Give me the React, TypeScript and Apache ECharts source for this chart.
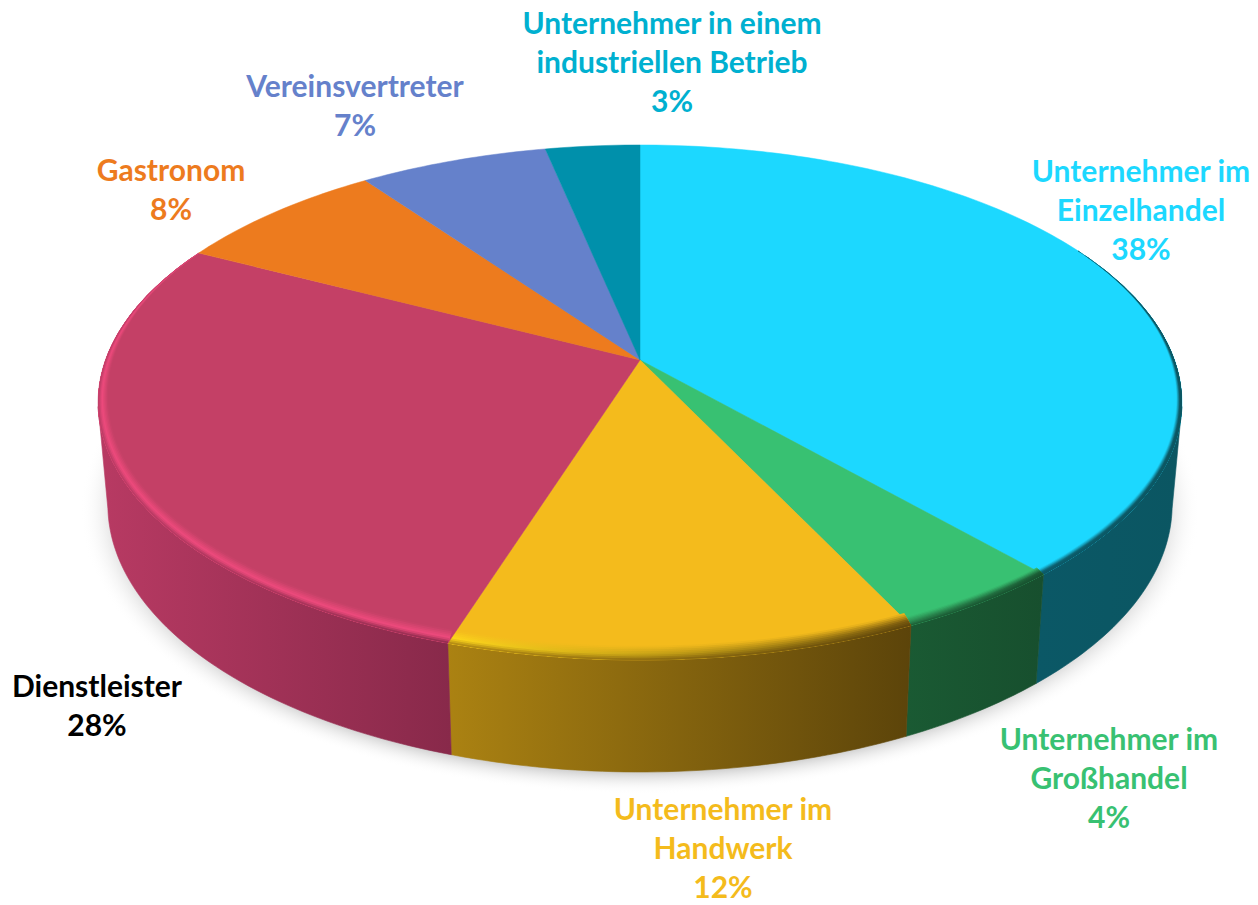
import React, { useEffect, useRef } from "react";
import * as echarts from "echarts";

// ---- data ----
const categories = [
  "Unternehmer im\nEinzelhandel",
  "Unternehmer im\nGroßhandel",
  "Unternehmer im\nHandwerk",
  "Dienstleister",
  "Gastronom",
  "Vereinsvertreter",
  "Unternehmer in einem\nindustriellen Betrieb",
];
const values = [38.5, 4.4, 12.0, 27.7, 7.5, 6.6, 3.3];
const percentLabels = ["38%", "4%", "12%", "28%", "8%", "7%", "3%"];

// ---- styles ----
const topColors = ["#1cd8ff", "#38c172", "#f4bb1c", "#c44066", "#ed7b1e", "#6581cb", "#0090ab"];
const labelColors = ["#1cd8ff", "#38c172", "#f4bb1c", "#000000", "#ed7b1e", "#6581cb", "#00b0d0"];
const wallLeft = ["#0b5866", "#1a5a33", "#ab8212", "#b83a63", "#c0641a", "#50669f", "#00728a"];
const wallRight = ["#0b5662", "#174f2e", "#5c440a", "#88294a", "#c0641a", "#50669f", "#00728a"];
const rimLeft = ["#0c5f6e", "#2a8a50", "#ffd81c", "#ee4a7c", "#ed7b1e", "#6581cb", "#0090ab"];
const rimRight = ["#0b5662", "#1a5a33", "#7a5a0e", "#ee4a7c", "#ed7b1e", "#6581cb", "#0090ab"];
const bevelWidths = [0.022, 0.028, 0.04, 0.04, 0, 0, 0];
// centre of the first text line, and the line pitch is LINE_GAP
const labelFirstLine = [
  [1141, 170],
  [1109, 738],
  [723, 808],
  [97, 685],
  [171, 169],
  [355, 85],
  [672, 22],
];
const LINE_GAP = 39;

// ---- projection of the tilted disc ----
const CX = 640;
const CY = 360;
const PERSP = 0.165;
const AX = 534.5;
const BY = 250.5;
const RAD = Math.PI / 180;
const VIS_START = 100.4;
const VIS_END = 259.6;

function project(theta: number, ru: number, rv: number = ru): [number, number] {
  const u = ru * Math.sin(theta * RAD);
  const v = rv * Math.cos(theta * RAD);
  const d = 1 + PERSP * v;
  return [CX + (AX * u) / d, CY - (BY * v) / d];
}
function lower(theta: number): [number, number] {
  const [x, y] = project(theta, 1);
  const v = Math.cos(theta * RAD);
  return [CX + (x - CX) * 0.982, y + 100 + 12 * Math.max(0, -v)];
}
function smooth(a: number, b: number, t: number) {
  const s = Math.min(1, Math.max(0, (t - a) / (b - a)));
  return s * s * (3 - 2 * s);
}
function taper(theta: number) {
  return smooth(55, 105, theta) * (1 - smooth(255, 305, theta));
}
function hex(c: string) {
  return [1, 3, 5].map((i) => parseInt(c.slice(i, i + 2), 16));
}
function mix(a: string, b: string, t: number) {
  const A = hex(a);
  const B = hex(b);
  const m = A.map((x, i) => Math.round(x + (B[i] - x) * t));
  return `rgb(${m[0]},${m[1]},${m[2]})`;
}
function ramp(top: string, rim: string, wall: string, t: number) {
  return t < 0.6 ? mix(top, rim, t / 0.6) : mix(rim, wall, (t - 0.6) / 0.4);
}
function arcRange(a: number, b: number) {
  const out: number[] = [];
  for (let t = a; t < b; t += 1) out.push(t);
  out.push(b);
  return out;
}

const total = values.reduce((s, v) => s + v, 0);

function renderSlice(params: any, api: any) {
  const i = params.dataIndex;
  const before = values.slice(0, i).reduce((s, v) => s + v, 0);
  const a0 = (before / total) * 360;
  const a1 = ((before + api.value(0)) / total) * 360;
  const children: any[] = [];

  const hGrad = (l: string, r: string) => ({
    type: "linear", x: 0, y: 0, x2: 1, y2: 0,
    colorStops: [{ offset: 0, color: l }, { offset: 1, color: r }],
  });

  const w0 = Math.max(a0, VIS_START);
  const w1 = Math.min(a1, VIS_END);
  if (w1 > w0) {
    const arc = arcRange(w0, w1);
    const pts = [...arc.map((t) => project(t, 1)), ...arc.slice().reverse().map(lower)];
    const fill = hGrad(wallLeft[i], wallRight[i]);
    children.push({ type: "polygon", shape: { points: pts }, style: { fill, stroke: fill, lineWidth: 0.6 } });
  }

  const arc = arcRange(a0, a1);
  children.push({
    type: "polygon",
    shape: { points: [[CX, CY], ...arc.map((t) => project(t, 1))] },
    style: { fill: topColors[i], stroke: topColors[i], lineWidth: 0.5 },
  });

  const b0 = Math.max(a0, 62);
  const b1 = Math.min(a1, 300);
  const width = bevelWidths[i];
  if (b1 > b0 && width > 0) {
    const bArc = arcRange(b0, b1);
    const layers = 8;
    for (let k = 0; k < layers; k++) {
      const t0 = k / layers;
      const tm = (k + 0.5) / layers;
      const outer = bArc.map((t) => project(t, 1));
      const inner = bArc
        .map((t) => {
          const dr = (1 - t0) * width * taper(t);
          return project(t, 1 - dr * 0.45, 1 - dr);
        })
        .reverse();
      const fill = hGrad(
        ramp(topColors[i], rimLeft[i], wallLeft[i], tm),
        ramp(topColors[i], rimRight[i], wallRight[i], tm),
      );
      children.push({ type: "polygon", shape: { points: [...outer, ...inner] }, style: { fill } });
    }
  }
  return { type: "group", children };
}

export default function App() {
  const ref = useRef<HTMLDivElement>(null);
  useEffect(() => {
    document.body.style.margin = "0";
    document.body.style.background = "#fff";
    const chart = echarts.init(ref.current!, null, { renderer: "svg" });
    const labelLines = categories.flatMap((c, i) =>
      `${c}\n${percentLabels[i]}`.split("\n").map((line, n) => ({
        type: "text",
        silent: true,
        x: labelFirstLine[i][0],
        y: labelFirstLine[i][1] + n * LINE_GAP,
        style: {
          text: line,
          fill: labelColors[i],
          font: "bold 30px Lato, sans-serif",
          align: "center",
          verticalAlign: "middle",
        },
      })),
    );
    chart.setOption({
      animation: false,
      backgroundColor: "#ffffff",
      graphic: [
        {
          type: "ellipse",
          silent: true,
          shape: { cx: 640, cy: 510, rx: 560, ry: 284 },
          style: {
            fill: {
              type: "radial", x: 0.5, y: 0.5, r: 0.5,
              colorStops: [
                { offset: 0, color: "#bdbdbd" },
                { offset: 0.91, color: "#bdbdbd" },
                { offset: 1, color: "rgba(255,255,255,0)" },
              ],
            },
          },
        },
        ...labelLines,
      ],
      series: [
        {
          type: "custom",
          coordinateSystem: "none",
          silent: true,
          renderItem: renderSlice,
          data: values.map((v) => [v]),
        },
      ],
    });
    return () => chart.dispose();
  }, []);
  return <div ref={ref} style={{ width: 1258, height: 905 }} />;
}
